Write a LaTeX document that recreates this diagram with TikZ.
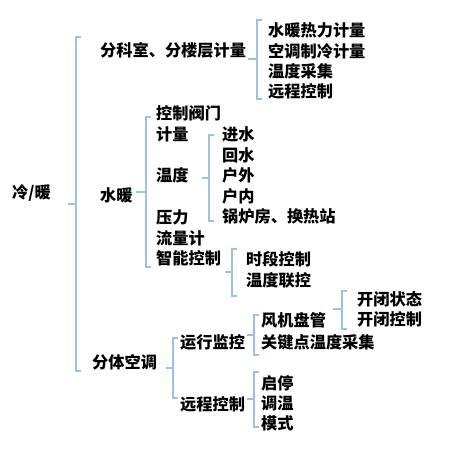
\documentclass[tikz,border=0pt]{standalone}
\usepackage{fontspec}
\setmainfont{Noto Sans CJK SC}
\definecolor{brkblue}{RGB}{155,194,230}
\tikzset{
  lbl/.style={anchor=west,inner sep=0pt,font=\fontsize{16.2}{17}\selectfont\bfseries},
  brk/.style={draw=brkblue,line width=1.7pt}
}
\newcommand\brak[5]{%
  \draw[brk] (#1+5,#2) -- (#1,#2) -- (#1,#3) -- (#1+5,#3);
  \draw[brk] (#5,#4) -- (#1,#4);}
\begin{document}
\begin{tikzpicture}[x=1pt,y=-1pt]
\path[use as bounding box,fill=white] (0,0) rectangle (453,449);
% level 0
\node[lbl] (root) at (12,193) {冷/暖};
\brak{76}{37}{371}{204}{68}
% level 1
\node[lbl] (fk) at (100,50) {分科室、分楼层计量};
\node[lbl] (sn) at (100,195) {水暖};
\node[lbl] (ft) at (92,362) {分体空调};
% fk children
\brak{257}{20}{99}{59}{248}
\node[lbl] (fk1) at (268,30) {水暖热力计量};
\node[lbl] (fk2) at (268,51) {空调制冷计量};
\node[lbl] (fk3) at (268,71) {温度采集};
\node[lbl] (fk4) at (268,91) {远程控制};
% sn children
\brak{146}{117}{267}{192}{136}
\node[lbl] (sn1) at (156,113) {控制阀门};
\node[lbl] (sn2) at (156,134) {计量};
\node[lbl] (sn3) at (156,175) {温度};
\node[lbl] (sn4) at (156,217) {压力};
\node[lbl] (sn5) at (156,238) {流量计};
\node[lbl] (sn6) at (156,258) {智能控制};
% wendu children
\brak{209}{135}{221}{178}{202}
\node[lbl] (wd1) at (222,134) {进水};
\node[lbl] (wd2) at (222,155) {回水};
\node[lbl] (wd3) at (222,175) {户外};
\node[lbl] (wd4) at (222,196) {户内};
\node[lbl] (wd5) at (222,216) {锅炉房、换热站};
% zhineng children
\brak{232}{249}{296}{272}{225}
\node[lbl] (zn1) at (246,259) {时段控制};
\node[lbl] (zn2) at (246,280) {温度联控};
% fenti children
\brak{173}{338}{398}{368}{166}
\node[lbl] (ft1) at (180,342) {运行监控};
\node[lbl] (ft2) at (180,404) {远程控制};
% yunxing children
\brak{254}{315}{355}{335}{247}
\node[lbl] (yx1) at (261,320) {风机盘管};
\node[lbl] (yx2) at (261,342) {关键点温度采集};
% fengji children
\brak{342}{291}{329}{309}{333}
\node[lbl] (fj1) at (357,299) {开闭状态};
\node[lbl] (fj2) at (357,319) {开闭控制};
% yuancheng children
\brak{254}{372}{427}{399}{247}
\node[lbl] (yc1) at (261,383) {启停};
\node[lbl] (yc2) at (261,403) {调温};
\node[lbl] (yc3) at (261,423) {模式};
\end{tikzpicture}
\end{document}
